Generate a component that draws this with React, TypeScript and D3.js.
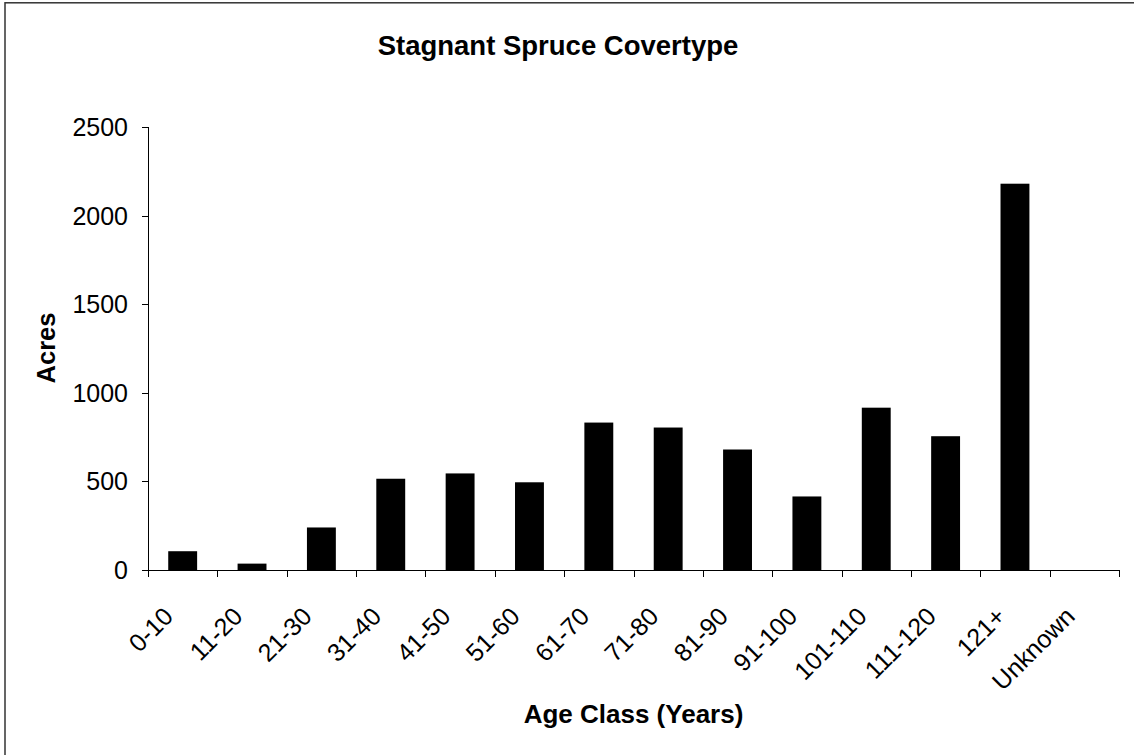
import React, { useEffect, useRef } from "react";
import * as d3 from "d3";

const categories = ["0-10", "11-20", "21-30", "31-40", "41-50", "51-60", "61-70", "71-80", "81-90", "91-100", "101-110", "111-120", "121+", "Unknown"];
const acres = [106, 36, 240, 515, 545, 495, 832, 804, 680, 415, 916, 755, 2180, 0];
const yTicks = [0, 500, 1000, 1500, 2000, 2500];
const titleText = "Stagnant Spruce Covertype";
const xTitle = "Age Class (Years)";
const yTitle = "Acres";

export default function App() {
  const ref = useRef<SVGSVGElement>(null);
  useEffect(() => {
    const svg = d3.select(ref.current);
    svg.selectAll("*").remove();
    const W = 1134, H = 755;
    const left = 148, right = 1119, top = 127, bottom = 570;
    const font = "'Liberation Sans', Arial, sans-serif";

    svg.append("rect").attr("x", 0).attr("y", 0).attr("width", W).attr("height", H).attr("fill", "#fff");
    svg.append("rect").attr("x", 5).attr("y", 2.8).attr("width", W + 50).attr("height", H + 50)
      .attr("fill", "none").attr("stroke", "#333").attr("stroke-width", 1.5);

    const x = d3.scaleBand<string>().domain(categories).range([left, right]).paddingInner(0).paddingOuter(0);
    const y = d3.scaleLinear().domain([0, 2500]).range([bottom, top]);
    const bw = x.bandwidth() / 2.4;

    svg.append("g").selectAll("rect").data(categories).join("rect")
      .attr("x", (d) => (x(d) as number) + x.bandwidth() / 2 - bw / 2)
      .attr("width", bw)
      .attr("y", (d, i) => y(acres[i]))
      .attr("height", (d, i) => bottom - y(acres[i]))
      .attr("fill", "#000");

    // Y axis
    svg.append("line").attr("x1", left + 0.5).attr("x2", left + 0.5).attr("y1", top).attr("y2", bottom)
      .attr("stroke", "#000").attr("stroke-width", 1);
    const yg = svg.append("g");
    yTicks.forEach((t) => {
      const yy = Math.round(y(t)) + 0.5;
      yg.append("line").attr("x1", left - 6).attr("x2", left).attr("y1", yy).attr("y2", yy).attr("stroke", "#000");
      yg.append("text").attr("x", 128).attr("y", y(t)).attr("dy", "0.36em").attr("text-anchor", "end")
        .attr("font-family", font).attr("font-size", 25).attr("fill", "#000").text(String(t));
    });

    // X axis
    svg.append("line").attr("x1", left).attr("x2", right).attr("y1", bottom + 0.5).attr("y2", bottom + 0.5)
      .attr("stroke", "#000").attr("stroke-width", 1);
    const xg = svg.append("g");
    const edges = categories.map((c) => x(c) as number).concat([right]);
    edges.forEach((e) => {
      const xx = Math.round(e) + 0.5;
      xg.append("line").attr("x1", xx).attr("x2", xx).attr("y1", bottom).attr("y2", bottom + 7).attr("stroke", "#000");
    });
    categories.forEach((c) => {
      const cx = (x(c) as number) + x.bandwidth() / 2 - 8;
      const cy = bottom + 48;
      xg.append("text").attr("transform", `translate(${cx},${cy}) rotate(-45)`).attr("text-anchor", "end")
        .attr("font-family", font).attr("font-size", 25).attr("fill", "#000").text(c);
    });

    // Titles
    svg.append("text").attr("x", 558).attr("y", 55).attr("text-anchor", "middle")
      .attr("font-family", font).attr("font-size", 27.5).attr("font-weight", "bold").text(titleText);
    svg.append("text").attr("x", 633.5).attr("y", 723).attr("text-anchor", "middle")
      .attr("font-family", font).attr("font-size", 26).attr("font-weight", "bold").text(xTitle);
    svg.append("text").attr("transform", `translate(55,348) rotate(-90)`).attr("text-anchor", "middle")
      .attr("font-family", font).attr("font-size", 25.5).attr("font-weight", "bold").text(yTitle);
  }, []);
  return (
    <svg ref={ref} width={1134} height={755} style={{ position: "absolute", left: 0, top: 0, display: "block" }} />
  );
}
